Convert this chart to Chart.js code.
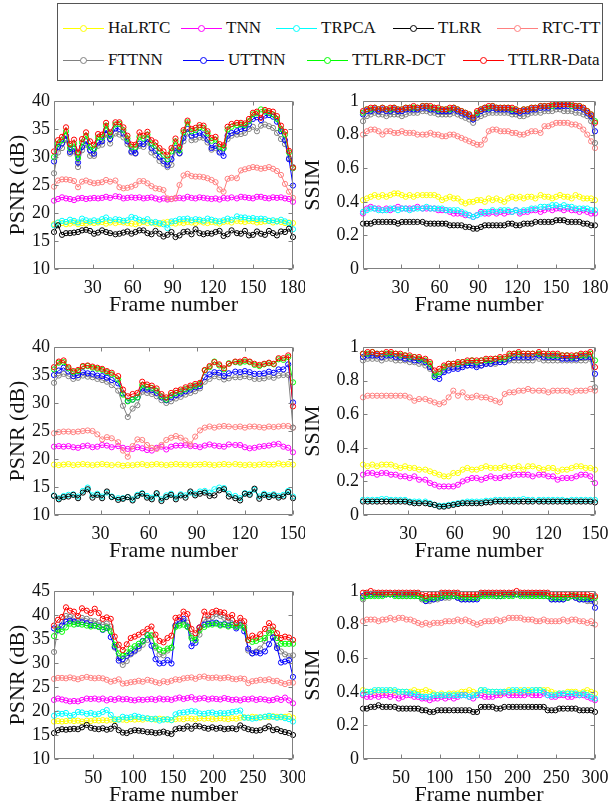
<!DOCTYPE html>
<html>
<head>
<meta charset="utf-8">
<script src="https://cdn.jsdelivr.net/npm/chart.js@4.4.1/dist/chart.umd.min.js"></script>
<style>
  html, body { margin: 0; padding: 0; background: #fff; }
  #page { position: relative; width: 610px; height: 810px; overflow: hidden; font-family: "Liberation Serif", "Times New Roman", serif; }
  #page canvas { position: absolute; }
  #legend { position: absolute; left: 57px; top: 3px; width: 546px; height: 78px; border: 1px solid #555; box-sizing: border-box; }
  .key { position: absolute; height: 20px; }
  .key .ln { position: absolute; left: 0; top: 10px; width: 41px; height: 0; border-top: 1px solid; }
  .key .dot { position: absolute; left: 17px; top: 7px; width: 5px; height: 5px; border: 1px solid; border-radius: 50%; background: #fff; }
  .key .tx { position: absolute; left: 45px; top: 0; font-size: 17px; line-height: 20px; white-space: nowrap; color: #111; }
</style>
</head>
<body>
<div id="page"><div id="legend"></div></div>
<script>
// ---------- methods & colours ----------
const methods = ["HaLRTC", "TNN", "TRPCA", "TLRR", "RTC-TT", "FTTNN", "UTTNN", "TTLRR-DCT", "TTLRR-Data"];
const colors = ["#ffff00", "#ff00ff", "#00ffff", "#000000", "#ff8080", "#808080", "#0000ff", "#00ff00", "#ff0000"];

// ---------- tick labels ----------
const psnrTicks40 = [10, 15, 20, 25, 30, 35, 40];
const psnrTicks45 = [10, 15, 20, 25, 30, 35, 40, 45];
const ssimTicks = [0, 0.2, 0.4, 0.6, 0.8, 1];
const frameTicks180 = [30, 60, 90, 120, 150, 180];
const frameTicks150 = [30, 60, 90, 120, 150];
const frameTicks300 = [50, 100, 150, 200, 250, 300];

// sampled frame numbers (evenly spaced from frame 1 to the last frame)
function frameGrid(last, count) {
  const out = [];
  for (let i = 0; i < count; i++) out.push(Math.round(1 + i * (last - 1) / (count - 1)));
  return out;
}
const frames180 = frameGrid(180, 60);
const frames150 = frameGrid(150, 50);
const frames300 = frameGrid(300, 60);

// ---------- video 1 (180 frames) ----------
// rows follow the order of `methods`
const psnr180 = [
  [18.0,18.3,18.2,18.0,18.1,18.3,18.0,18.2,18.1,18.3, 18.2,18.3,18.4,18.1,18.3,18.2,18.4,18.3,18.2,18.1, 18.0,18.2,18.4,18.2,18.3,18.1,18.0,18.3,18.4,18.2, 18.1,18.3,18.2,18.4,18.3,18.2,18.5,18.3,18.2,18.4, 18.3,18.1,18.4,18.5,18.3,18.6,18.5,18.4,18.6,18.5, 18.3,18.4,18.5,18.6,18.3,18.5,18.4,18.2,18.3,18.2],
  [22.2,22.5,22.8,22.6,22.5,22.3,22.6,22.7,22.5,22.6, 22.7,22.6,22.7,22.9,22.7,23.0,22.9,22.6,22.7,22.8, 22.7,22.8,22.6,22.7,22.8,22.6,22.4,22.6,22.4,22.5, 22.6,22.7,22.6,22.9,22.7,22.6,22.8,22.7,22.6,22.5, 22.6,22.4,22.7,22.6,22.8,22.6,22.9,22.8,22.7,22.6, 22.9,22.9,22.7,22.6,22.8,22.7,22.8,22.6,22.5,22.0],
  [17.8,18.3,18.6,18.4,18.8,18.6,18.3,19.0,18.7,18.5, 18.7,18.5,18.9,19.2,18.7,18.9,18.8,18.6,18.7,19.3, 19.1,18.8,18.6,18.9,18.3,18.4,18.2,18.0,17.3,18.5, 18.6,18.9,18.9,19.0,18.7,18.9,18.8,18.6,19.0,18.8, 18.6,18.5,18.7,19.0,18.8,19.4,19.2,19.2,19.0,19.1, 18.9,19.0,18.9,18.6,18.7,18.5,18.8,18.5,18.2,17.1],
  [16.6,17.8,16.1,16.4,16.4,16.5,16.6,16.9,17.0,16.8, 16.3,16.5,16.9,16.6,16.4,16.2,16.3,16.5,16.7,16.3, 16.6,16.9,16.9,16.4,16.2,16.8,16.3,15.8,16.1,16.6, 15.7,16.0,16.6,16.7,16.2,17.1,16.4,16.2,16.4,16.3, 16.6,16.8,15.9,16.2,16.9,16.4,16.3,16.8,16.0,16.1, 16.7,16.3,16.1,16.8,16.4,16.0,16.7,16.6,17.2,15.7],
  [24.7,25.8,26.0,26.0,25.9,25.7,24.6,25.6,25.8,25.5, 25.3,25.4,25.5,25.9,25.6,25.8,24.6,24.4,24.5,24.7, 25.0,25.7,25.7,25.3,24.8,24.4,24.3,24.1,22.6,22.5, 22.7,25.0,26.7,27.0,26.6,26.5,26.5,26.4,26.2,25.9, 25.5,24.2,23.8,26.1,26.3,26.2,27.6,27.8,28.0,28.2, 28.1,27.9,28.0,28.2,27.9,27.5,26.8,25.2,23.8,22.7],
  [27.1,30.8,31.6,33.0,30.6,31.0,28.2,31.2,32.2,30.2, 30.2,32.0,32.2,34.0,32.4,34.2,34.0,33.5,32.3,30.8, 30.6,32.0,31.8,32.6,30.8,30.3,29.3,28.8,28.2,28.6, 31.2,30.6,32.8,34.2,33.0,33.1,33.5,33.4,32.6,31.3, 31.6,31.0,31.5,33.2,33.8,34.0,34.1,34.3,35.0,35.4, 34.6,35.6,35.8,35.5,35.2,34.3,33.2,32.3,29.8,28.2],
  [29.2,31.8,32.4,33.8,30.9,31.5,29.0,31.8,32.8,31.2, 30.6,32.6,32.8,34.8,33.2,35.1,35.0,34.2,32.8,31.0, 30.7,32.4,32.3,33.2,31.6,31.1,30.0,29.3,28.5,29.6, 31.6,30.7,33.4,35.0,33.8,34.0,34.3,34.0,33.1,31.6, 32.0,30.8,30.2,33.8,34.3,34.6,35.0,35.1,35.8,36.8, 37.1,36.6,37.4,37.5,37.2,36.3,34.6,33.0,29.6,24.9],
  [30.0,32.4,33.0,34.6,31.6,32.4,29.8,32.6,33.8,31.8, 31.5,33.5,33.5,35.6,33.8,35.8,35.9,34.8,33.3,31.8, 31.8,33.6,33.3,34.0,32.4,32.0,31.0,30.4,29.6,31.0, 32.8,31.2,34.4,36.2,34.6,34.8,35.3,35.2,34.2,32.9, 33.1,31.8,31.6,34.9,35.4,35.7,35.8,35.7,36.4,37.6, 37.8,38.5,38.1,37.9,37.6,36.8,35.0,34.0,30.8,28.0],
  [31.0,33.0,33.6,35.3,32.3,33.1,30.8,33.2,34.4,32.8, 32.2,34.1,34.0,36.1,34.4,36.2,36.2,35.3,33.8,32.2, 32.2,34.4,33.8,34.5,33.0,32.6,31.6,31.0,30.3,31.6, 33.3,31.8,34.8,36.5,35.0,35.2,35.7,35.6,34.6,33.4, 33.6,32.3,32.1,35.4,35.9,36.1,36.1,36.0,36.8,37.9, 38.1,37.0,38.4,38.2,38.1,37.3,35.6,34.5,31.1,28.1]
];
const ssim180 = [
  [.41,.42,.43,.44,.43,.44,.43,.44,.45,.45, .44,.43,.44,.43,.44,.44,.44,.44,.44,.43, .41,.42,.43,.42,.42,.40,.39,.40,.40,.41, .41,.40,.42,.41,.42,.41,.40,.42,.43,.42, .43,.42,.43,.43,.42,.44,.43,.43,.42,.43, .44,.43,.43,.42,.44,.43,.42,.42,.42,.41],
  [.33,.36,.37,.36,.36,.35,.36,.35,.36,.37, .36,.36,.36,.36,.37,.36,.36,.36,.36,.35, .35,.35,.34,.33,.33,.33,.32,.32,.31,.32, .34,.33,.33,.34,.33,.34,.33,.34,.34,.35, .33,.34,.34,.35,.35,.34,.35,.36,.35,.36, .36,.35,.36,.35,.35,.34,.35,.34,.33,.33],
  [.34,.35,.36,.36,.35,.35,.35,.36,.36,.35, .36,.36,.35,.36,.36,.36,.37,.36,.36,.36, .36,.35,.35,.35,.35,.34,.33,.32,.31,.32, .33,.34,.34,.35,.34,.35,.35,.35,.34,.35, .34,.35,.35,.36,.36,.37,.37,.37,.38,.38, .37,.38,.37,.37,.36,.36,.36,.36,.35,.35],
  [.27,.27,.27,.28,.28,.28,.28,.28,.28,.27, .28,.28,.28,.28,.28,.28,.27,.27,.27,.27, .27,.27,.26,.26,.26,.26,.25,.25,.24,.24, .25,.26,.26,.26,.26,.26,.26,.27,.27,.26, .26,.27,.27,.27,.28,.28,.28,.28,.28,.29, .29,.29,.28,.28,.28,.28,.27,.27,.26,.26],
  [.80,.82,.83,.83,.82,.80,.82,.82,.81,.81, .82,.81,.81,.81,.80,.80,.80,.81,.80,.80, .79,.79,.80,.80,.79,.78,.77,.76,.75,.74, .74,.77,.82,.83,.83,.82,.82,.82,.81,.81, .80,.80,.81,.82,.82,.81,.85,.85,.86,.87, .87,.87,.87,.86,.86,.85,.83,.80,.76,.72],
  [.88,.91,.92,.93,.92,.92,.91,.92,.92,.92, .91,.92,.93,.93,.93,.94,.94,.93,.93,.92, .92,.92,.92,.93,.92,.91,.90,.89,.87,.90, .91,.92,.93,.93,.93,.93,.93,.93,.92,.92, .91,.91,.92,.93,.93,.93,.94,.94,.94,.95, .95,.94,.94,.94,.93,.93,.92,.91,.88,.75],
  [.92,.94,.94,.95,.94,.95,.94,.94,.95,.94, .94,.95,.95,.95,.95,.96,.96,.95,.95,.94, .94,.94,.94,.95,.94,.93,.92,.91,.89,.92, .94,.95,.95,.96,.95,.95,.95,.95,.94,.94, .93,.94,.94,.95,.95,.96,.96,.96,.97,.97, .97,.97,.97,.97,.96,.96,.95,.93,.91,.82],
  [.93,.95,.95,.96,.95,.96,.95,.95,.96,.95, .95,.96,.96,.96,.96,.97,.97,.96,.96,.95, .95,.95,.95,.96,.95,.94,.93,.92,.90,.93, .95,.96,.96,.97,.96,.96,.96,.96,.95,.95, .94,.95,.95,.96,.96,.97,.97,.97,.97,.98, .98,.98,.98,.97,.97,.97,.96,.94,.92,.88],
  [.94,.95,.96,.96,.95,.96,.95,.96,.96,.95, .95,.96,.96,.97,.96,.97,.97,.97,.96,.96, .95,.95,.96,.96,.95,.94,.93,.92,.90,.94, .95,.96,.97,.97,.96,.96,.96,.96,.96,.95, .94,.95,.95,.96,.96,.97,.97,.97,.98,.98, .98,.98,.98,.98,.97,.97,.96,.94,.92,.87]
];

// ---------- video 2 (150 frames) ----------
const psnr150 = [
  [19.0,18.9,19.0,19.1,18.9,19.0,19.1,19.0,18.9,19.0, 19.1,19.0,18.9,19.0,18.8,18.9,18.9,19.0,19.1,18.9, 19.0,19.1,19.0,18.9,19.0,19.1,19.0,19.0,18.9,19.0, 19.0,19.1,19.0,18.9,19.0,19.1,19.0,19.1,19.0,18.9, 19.0,18.9,19.0,19.1,19.0,19.0,19.2,19.0,19.1,19.0],
  [22.2,22.3,22.2,22.3,22.1,22.0,22.3,22.4,22.1,22.2, 22.5,22.4,22.1,22.3,22.0,21.8,21.8,22.1,21.9,21.6, 21.5,22.0,22.2,21.7,22.2,22.4,22.4,22.5,22.3,22.3, 22.1,22.4,22.6,22.4,22.3,22.2,22.6,22.5,22.5,22.1, 21.9,22.0,22.2,22.3,22.4,22.6,22.7,22.2,22.0,21.2],
  [13.5,13.0,13.4,13.6,13.7,13.3,14.3,14.9,13.5,13.8, 13.3,14.0,13.3,13.0,13.0,13.2,12.8,13.6,13.9,13.4, 13.1,13.7,12.8,13.5,13.8,13.1,13.7,13.5,14.0,13.8, 14.2,14.3,14.0,14.6,14.9,14.8,13.8,13.4,13.0,13.9, 13.8,14.5,13.3,13.8,13.5,13.7,13.4,13.6,14.3,13.3],
  [13.4,12.8,13.2,13.3,13.6,13.0,14.0,14.6,13.1,13.6, 13.0,14.2,13.2,12.7,12.9,13.2,12.6,13.4,13.8,13.1, 12.8,13.9,12.5,13.2,13.6,12.8,13.5,13.1,14.2,13.5, 13.8,14.0,13.4,13.5,14.4,14.6,13.3,13.0,12.6,13.8, 13.6,14.7,12.9,13.6,13.2,13.5,13.1,13.3,14.1,13.0],
  [24.6,24.8,24.9,24.9,24.8,24.9,25.0,25.1,25.0,24.4, 23.5,23.9,23.7,23.0,21.5,20.4,22.3,23.5,23.4,22.5, 22.0,21.8,22.5,23.4,23.8,24.1,23.8,23.3,22.6,24.0, 25.1,25.6,25.8,25.6,25.8,25.9,25.8,25.7,25.8,25.6, 25.8,25.8,25.7,25.6,25.8,25.7,25.8,25.9,25.9,25.6],
  [33.6,34.9,35.2,34.8,34.3,34.5,34.9,34.7,34.6,34.3, 34.1,33.8,33.2,32.2,29.5,27.5,29.0,29.6,32.0,31.8, 31.6,31.2,30.5,30.0,30.3,30.8,31.1,31.5,31.8,32.1, 32.6,33.8,34.3,34.8,34.6,34.2,34.4,34.6,34.6,34.8, 34.6,34.3,34.3,34.4,34.7,34.5,34.9,35.0,35.0,25.6],
  [35.0,35.8,36.3,35.6,34.8,35.0,35.5,35.3,35.2,34.9, 34.8,34.5,34.1,33.5,31.7,30.4,30.6,31.0,32.6,32.4, 32.3,31.8,31.0,30.5,31.0,31.4,31.7,32.1,32.4,32.8, 33.0,34.6,35.1,35.5,35.4,34.8,35.3,35.6,35.5,35.7, 35.5,35.2,35.2,35.3,35.6,35.4,36.0,36.0,36.9,30.1],
  [36.0,37.2,37.3,36.2,35.5,35.7,36.5,36.6,36.3,36.1, 35.9,35.5,35.1,34.2,31.5,30.3,30.6,31.0,33.2,32.9, 32.7,32.2,31.2,30.6,31.4,31.8,32.1,32.5,32.8,33.1, 33.4,35.8,36.4,37.4,36.7,36.0,37.1,37.3,37.2,37.4, 37.3,36.8,36.6,36.9,37.1,36.9,37.8,37.7,38.2,33.7],
  [36.4,37.4,37.6,36.4,35.7,35.9,36.6,36.7,36.5,36.3, 36.1,35.7,35.4,34.8,32.4,31.2,31.6,31.8,33.8,33.3, 33.1,32.6,31.6,31.0,31.8,32.2,32.4,32.8,33.1,33.4, 33.6,35.9,36.6,37.3,36.9,36.2,37.0,37.4,37.4,37.7, 37.4,37.0,36.8,37.0,37.2,37.0,38.0,38.0,38.5,29.4]
];
const ssim150 = [
  [.30,.29,.30,.29,.30,.30,.30,.29,.28,.29, .28,.28,.27,.27,.26,.25,.24,.23,.23,.25, .25,.27,.28,.27,.27,.28,.29,.28,.28,.28, .29,.28,.28,.29,.27,.29,.29,.28,.27,.28, .28,.26,.27,.27,.28,.29,.29,.28,.28,.27],
  [.24,.25,.25,.24,.25,.25,.24,.24,.23,.23, .22,.23,.21,.21,.19,.18,.17,.17,.17,.17, .18,.20,.21,.22,.22,.21,.22,.23,.22,.22, .23,.23,.24,.24,.24,.24,.23,.24,.24,.23, .23,.21,.22,.22,.22,.23,.24,.24,.23,.19],
  [.09,.09,.09,.09,.095,.095,.09,.09,.09,.09, .08,.08,.08,.08,.07,.06,.055,.055,.06,.065, .07,.075,.08,.08,.08,.08,.085,.085,.09,.09, .09,.09,.09,.09,.095,.09,.09,.09,.09,.09, .09,.09,.09,.085,.09,.09,.09,.09,.09,.09],
  [.08,.08,.08,.08,.08,.08,.08,.08,.08,.08, .075,.07,.07,.07,.065,.06,.05,.05,.055,.06, .065,.07,.07,.07,.07,.07,.075,.075,.08,.08, .08,.08,.08,.08,.08,.08,.08,.08,.08,.08, .08,.08,.08,.08,.08,.08,.08,.08,.08,.075],
  [.70,.71,.71,.71,.71,.71,.71,.71,.71,.71, .70,.68,.69,.69,.68,.67,.66,.67,.70,.74, .71,.73,.70,.70,.71,.70,.70,.69,.68,.67, .72,.73,.73,.74,.74,.75,.74,.74,.74,.73, .74,.74,.74,.74,.73,.74,.74,.74,.75,.74],
  [.92,.93,.93,.93,.92,.93,.93,.92,.92,.92, .91,.91,.90,.89,.87,.84,.84,.86,.88,.88, .88,.89,.89,.90,.89,.89,.90,.90,.90,.91, .91,.92,.92,.92,.92,.92,.92,.93,.92,.92, .92,.92,.92,.92,.92,.92,.92,.92,.93,.76],
  [.94,.95,.95,.95,.94,.95,.95,.94,.94,.93, .93,.92,.92,.91,.88,.82,.81,.85,.86,.87, .87,.88,.89,.89,.88,.89,.90,.90,.91,.91, .91,.93,.94,.94,.94,.94,.94,.95,.94,.94, .94,.94,.93,.93,.93,.93,.94,.94,.94,.84],
  [.96,.96,.97,.96,.96,.96,.96,.96,.95,.95, .94,.94,.93,.92,.90,.83,.85,.88,.90,.90, .90,.91,.91,.92,.91,.92,.92,.92,.93,.93, .93,.95,.96,.96,.96,.96,.96,.96,.96,.95, .95,.95,.95,.95,.94,.95,.95,.95,.96,.92],
  [.96,.97,.97,.96,.96,.97,.97,.96,.96,.95, .95,.94,.94,.93,.91,.86,.87,.89,.90,.90, .91,.91,.92,.92,.92,.92,.93,.93,.93,.94, .94,.96,.96,.97,.96,.96,.96,.97,.96,.96, .96,.96,.95,.95,.95,.95,.96,.96,.97,.88]
];

// ---------- video 3 (300 frames) ----------
const psnr300 = [
  [17.8,17.9,17.8,17.9,18.0,17.9,18.0,17.8,18.0,17.9, 18.1,18.0,18.1,18.0,18.2,18.1,18.3,18.2,18.1,18.3, 18.2,18.3,18.2,18.4,18.3,18.2,18.4,18.3,18.2,18.1, 18.3,18.4,18.3,18.5,18.4,18.3,18.5,18.4,18.5,18.3, 18.4,18.5,18.4,18.3,18.5,18.4,18.6,18.7,18.6,18.8, 18.7,18.6,18.8,18.7,18.9,18.8,18.7,18.8,18.9,18.6],
  [22.3,22.6,22.4,22.2,22.0,22.1,22.0,22.3,22.6,22.5, 22.6,22.4,22.6,22.2,22.5,22.3,22.6,22.4,22.5,22.3, 22.2,22.4,22.3,22.4,22.5,22.3,22.6,22.4,22.5,22.3, 22.6,22.8,22.5,22.7,22.9,22.4,22.6,22.7,22.4,22.6, 22.5,22.4,22.7,22.5,22.3,22.4,22.2,22.5,22.4,22.6, 22.3,22.5,22.4,22.2,22.3,22.6,22.3,22.8,22.2,21.6],
  [19.0,19.5,19.4,19.6,19.0,19.2,19.8,19.7,19.4,19.6, 19.3,19.4,19.8,20.2,19.2,18.3,18.2,18.8,18.6,18.7, 19.0,18.8,18.6,18.5,18.3,18.4,18.0,18.2,18.3,18.1, 19.3,19.6,19.7,19.8,20.0,19.9,19.5,19.4,19.6,19.7, 19.4,19.6,19.5,19.6,19.8,19.9,20.1,18.6,18.6,18.4, 18.5,18.7,18.8,19.0,18.8,18.6,18.8,18.5,18.3,17.8],
  [15.4,16.0,16.2,16.1,16.2,16.3,16.2,16.6,17.1,16.5, 16.3,16.2,16.4,16.1,16.3,16.9,16.0,15.5,15.4,15.8, 16.0,15.9,15.8,15.6,15.6,15.4,15.5,15.7,15.4,15.2, 16.2,16.4,16.3,16.8,16.3,16.9,16.8,16.5,16.3,16.6, 16.3,16.5,16.2,16.3,16.4,16.2,17.0,16.5,16.2,16.0, 15.9,16.0,16.4,16.8,16.0,16.2,15.8,15.6,15.4,15.0],
  [26.7,26.9,26.9,26.8,27.0,26.8,26.6,26.9,27.1,26.9, 26.8,26.9,26.8,26.5,26.1,26.3,26.6,25.7,25.8,26.0, 26.1,26.3,26.1,26.5,26.3,26.0,25.8,26.2,26.0,26.3, 26.6,26.5,26.8,26.9,27.0,26.7,27.1,27.2,26.9,26.9, 27.0,26.8,26.9,27.0,26.7,26.6,26.8,26.7,25.8,26.2, 26.3,26.5,26.4,26.6,26.2,26.3,25.9,25.6,25.9,25.9],
  [32.3,37.4,38.6,39.8,39.6,39.3,38.9,39.4,39.2,38.8, 38.7,38.4,38.0,38.2,37.6,33.2,31.0,29.6,30.4,31.8, 32.4,33.0,33.8,34.8,35.6,33.2,31.8,31.6,32.6,33.2, 37.8,38.2,38.8,38.4,35.6,34.8,35.9,39.0,39.2,39.6, 40.2,39.8,39.4,38.8,38.9,37.6,38.4,37.8,32.6,32.0, 32.4,33.0,34.6,36.8,35.4,33.6,32.4,31.8,31.4,31.6],
  [37.2,36.8,37.8,38.6,38.8,38.6,38.2,38.5,38.3,37.9, 37.8,37.6,36.9,37.3,35.4,33.4,30.5,30.8,31.5,32.0, 32.6,33.5,34.6,35.8,33.6,30.8,29.9,30.0,30.6,29.9, 37.8,38.8,39.2,37.6,33.5,34.2,37.4,38.0,38.2,38.3, 38.4,38.0,38.1,37.8,38.0,37.2,38.0,36.6,33.0,32.0, 32.2,32.0,32.4,33.9,35.3,33.1,30.1,30.3,30.6,27.1],
  [35.6,37.0,36.5,37.4,38.2,38.0,38.2,38.0,37.8,37.6, 37.8,37.5,37.0,37.4,36.6,33.8,32.0,31.5,32.2,33.0, 33.5,34.0,34.5,35.8,35.8,33.5,32.8,32.5,33.0,33.2, 37.5,37.8,38.0,37.5,35.2,34.8,36.8,37.5,38.0,38.0, 38.2,37.8,38.0,37.6,37.9,37.5,37.8,37.3,34.8,34.4, 34.6,35.0,35.2,36.3,36.8,35.2,34.0,34.0,34.0,34.0],
  [37.8,39.0,39.6,41.6,40.9,40.7,39.8,41.4,40.9,40.4, 41.3,40.4,39.2,39.5,39.2,35.5,33.8,32.7,33.9,35.2, 35.5,35.9,36.4,37.1,37.6,35.9,34.6,34.3,35.2,35.7, 39.4,39.5,40.7,40.2,37.1,36.2,37.4,40.7,39.9,40.6, 40.9,40.6,40.5,39.5,40.0,38.3,39.4,38.7,34.8,35.7, 35.3,36.0,37.1,38.3,37.6,36.2,35.2,35.5,35.3,34.8]
];
const ssim300 = [
  [.41,.40,.40,.40,.41,.40,.40,.41,.40,.40, .40,.40,.40,.41,.40,.40,.41,.40,.39,.38, .39,.38,.39,.39,.39,.40,.40,.41,.40,.39, .41,.40,.40,.40,.40,.39,.40,.41,.40,.40, .41,.40,.41,.40,.41,.41,.41,.41,.40,.39, .39,.39,.40,.40,.40,.39,.40,.41,.40,.39],
  [.38,.37,.37,.38,.37,.38,.38,.37,.38,.36, .37,.38,.38,.37,.37,.36,.36,.35,.36,.36, .37,.36,.37,.36,.37,.38,.38,.37,.36,.38, .38,.37,.37,.37,.38,.38,.39,.38,.38,.38, .38,.38,.39,.38,.38,.38,.39,.38,.37,.37, .38,.38,.37,.37,.38,.38,.38,.37,.36,.35],
  [.39,.40,.40,.41,.41,.41,.41,.41,.41,.40, .40,.40,.39,.39,.38,.37,.37,.37,.38,.38, .38,.38,.38,.38,.38,.38,.38,.37,.38,.38, .41,.41,.40,.40,.40,.40,.40,.40,.41,.41, .40,.41,.40,.41,.41,.41,.40,.38,.38,.38, .39,.39,.39,.39,.39,.38,.39,.38,.37,.36],
  [.30,.30,.31,.31,.32,.31,.31,.31,.31,.30, .30,.30,.30,.30,.30,.29,.29,.28,.28,.29, .29,.29,.29,.29,.29,.29,.29,.29,.28,.28, .31,.31,.31,.31,.30,.30,.31,.31,.31,.31, .31,.31,.31,.31,.31,.31,.31,.29,.29,.29, .30,.30,.30,.30,.30,.29,.29,.29,.29,.28],
  [.82,.83,.83,.83,.82,.83,.83,.84,.83,.84, .84,.83,.83,.82,.81,.80,.81,.80,.81,.81, .81,.82,.82,.82,.83,.82,.83,.82,.81,.80, .81,.82,.82,.82,.83,.82,.83,.84,.84,.84, .84,.83,.83,.83,.82,.82,.83,.82,.82,.82, .82,.83,.82,.83,.83,.82,.82,.81,.82,.80],
  [.95,.97,.98,.98,.98,.98,.98,.98,.98,.97, .97,.97,.97,.97,.97,.95,.94,.94,.95,.95, .96,.96,.96,.97,.96,.95,.95,.95,.95,.96, .98,.98,.98,.98,.97,.97,.98,.98,.98,.98, .98,.98,.98,.97,.98,.97,.97,.97,.95,.95, .95,.95,.96,.97,.96,.95,.95,.94,.94,.93],
  [.97,.98,.98,.98,.98,.98,.98,.98,.98,.98, .98,.98,.98,.98,.97,.96,.94,.95,.95,.96, .96,.97,.97,.97,.96,.95,.95,.95,.95,.95, .98,.98,.98,.98,.97,.97,.98,.98,.98,.98, .98,.98,.98,.98,.98,.98,.98,.97,.95,.95, .95,.95,.96,.97,.96,.95,.95,.95,.95,.90],
  [.96,.97,.97,.97,.97,.97,.98,.98,.97,.97, .97,.97,.97,.97,.97,.96,.95,.96,.96,.96, .97,.97,.97,.97,.97,.96,.96,.96,.96,.96, .97,.97,.97,.97,.97,.97,.97,.97,.97,.98, .97,.97,.97,.97,.97,.97,.97,.97,.96,.96, .96,.96,.96,.97,.97,.96,.96,.96,.96,.96],
  [.99,.99,1.0,.99,.99,.99,.99,.99,.99,.99, .99,.99,.99,.99,.99,.98,.97,.98,.98,.98, .99,.99,.99,.99,.99,.98,.98,.98,.98,.98, .99,.99,.99,.99,.99,.99,.99,.99,.99,1.0, .99,.99,.99,.99,.99,.99,.99,.99,.98,.98, .98,.98,.98,.98,.98,.98,.98,.98,.97,.97]
];

// ---------- legend ----------
const legendX = [63, 181, 276, 393, 497, 63, 183, 307, 463];
const legendY = [18, 18, 18, 18, 18, 50, 50, 50, 50];
const page = document.getElementById("page");
methods.forEach((name, i) => {
  const key = document.createElement("div");
  key.className = "key";
  key.style.left = legendX[i] + "px";
  key.style.top = legendY[i] + "px";
  key.innerHTML = `<span class="ln" style="border-color:${colors[i]}"></span>` +
    `<span class="dot" style="border-color:${colors[i]}"></span>` +
    `<span class="tx">${name}</span>`;
  page.appendChild(key);
});

// ---------- axes box with inward ticks ----------
const AXIS_COLOR = "#808080";
const boxTicks = {
  id: "boxTicks",
  afterDatasetsDraw(chart) {
    const { ctx, chartArea: a, scales: { x, y } } = chart;
    const L = Math.round(a.left) + 0.5, R = Math.round(a.right) - 0.5;
    const T = Math.round(a.top) + 0.5, B = Math.round(a.bottom) - 0.5;
    ctx.save();
    ctx.strokeStyle = AXIS_COLOR;
    ctx.lineWidth = 1;
    ctx.beginPath();
    x.ticks.forEach((t) => {
      const px = Math.round(x.getPixelForValue(t.value)) + 0.5;
      ctx.moveTo(px, B); ctx.lineTo(px, B - 4);
      ctx.moveTo(px, T); ctx.lineTo(px, T + 4);
    });
    y.ticks.forEach((t) => {
      const py = Math.round(y.getPixelForValue(t.value)) + 0.5;
      ctx.moveTo(L, py); ctx.lineTo(L + 4, py);
      ctx.moveTo(R, py); ctx.lineTo(R - 4, py);
    });
    ctx.rect(L, T, R - L, B - T);
    ctx.stroke();
    ctx.restore();
  },
};

// ---------- panels ----------
const FONT = "'Liberation Serif', 'Times New Roman', serif";
const cols = [
  { left: 0, width: 305, axisW: 54, padR: 12, titlePad: 5 },
  { left: 300, width: 310, axisW: 63, padR: 15, titlePad: 0 },
];
const rows = [90, 336, 580];

const panels = [
  { row: 0, col: 0, frames: frames180, values: psnr180, xTicks: frameTicks180, yTicks: psnrTicks40, yTitle: "PSNR (dB)" },
  { row: 0, col: 1, frames: frames180, values: ssim180, xTicks: frameTicks180, yTicks: ssimTicks, yTitle: "SSIM" },
  { row: 1, col: 0, frames: frames150, values: psnr150, xTicks: frameTicks150, yTicks: psnrTicks40, yTitle: "PSNR (dB)" },
  { row: 1, col: 1, frames: frames150, values: ssim150, xTicks: frameTicks150, yTicks: ssimTicks, yTitle: "SSIM" },
  { row: 2, col: 0, frames: frames300, values: psnr300, xTicks: frameTicks300, yTicks: psnrTicks45, yTitle: "PSNR (dB)" },
  { row: 2, col: 1, frames: frames300, values: ssim300, xTicks: frameTicks300, yTicks: ssimTicks, yTitle: "SSIM" },
];

panels.forEach((p) => {
  const col = cols[p.col];
  const canvas = document.createElement("canvas");
  canvas.width = col.width;
  canvas.height = 230;
  canvas.style.left = col.left + "px";
  canvas.style.top = rows[p.row] + "px";
  page.appendChild(canvas);

  const datasets = methods.map((name, i) => ({
    label: name,
    data: p.frames.map((f, j) => ({ x: f, y: p.values[i][j] })),
    borderColor: colors[i],
    borderWidth: 1,
    pointStyle: "circle",
    pointRadius: 2.6,
    pointBorderWidth: 1,
    pointBorderColor: colors[i],
    pointBackgroundColor: "rgba(255,255,255,0)",
    tension: 0,
    clip: false,
    order: methods.length - 1 - i,
  }));

  const last = p.frames[p.frames.length - 1];
  new Chart(canvas, {
    type: "line",
    data: { datasets },
    options: {
      responsive: false,
      animation: false,
      devicePixelRatio: 1,
      events: [],
      layout: { padding: { top: 11, right: col.padR, left: 0, bottom: 0 } },
      plugins: { legend: { display: false }, tooltip: { enabled: false } },
      scales: {
        x: {
          type: "linear",
          min: 1,
          max: last,
          grid: { display: false, drawTicks: false },
          border: { display: false },
          afterBuildTicks: (s) => { s.ticks = p.xTicks.map((v) => ({ value: v })); },
          afterFit: (s) => { s.height = 51; s.paddingLeft = 0; s.paddingRight = 0; },
          ticks: { color: "#111", padding: 8, maxRotation: 0, autoSkip: false, font: { family: FONT, size: 18 } },
          title: { display: true, text: "Frame number", color: "#111", padding: { top: 0, bottom: 2 }, font: { family: FONT, size: 22 } },
        },
        y: {
          min: p.yTicks[0],
          max: p.yTicks[p.yTicks.length - 1],
          grid: { display: false, drawTicks: false },
          border: { display: false },
          afterBuildTicks: (s) => { s.ticks = p.yTicks.map((v) => ({ value: v })); },
          afterFit: (s) => { s.width = col.axisW; s.paddingTop = 0; s.paddingBottom = 0; },
          ticks: {
            color: "#111",
            padding: 4,
            autoSkip: false,
            font: { family: FONT, size: 18 },
            callback: (v) => String(Number(v.toFixed(1))),
          },
          title: { display: true, text: p.yTitle, color: "#111", padding: { top: col.titlePad, bottom: 0 }, font: { family: FONT, size: 22 } },
        },
      },
    },
    plugins: [boxTicks],
  });
});
</script>
</body>
</html>
